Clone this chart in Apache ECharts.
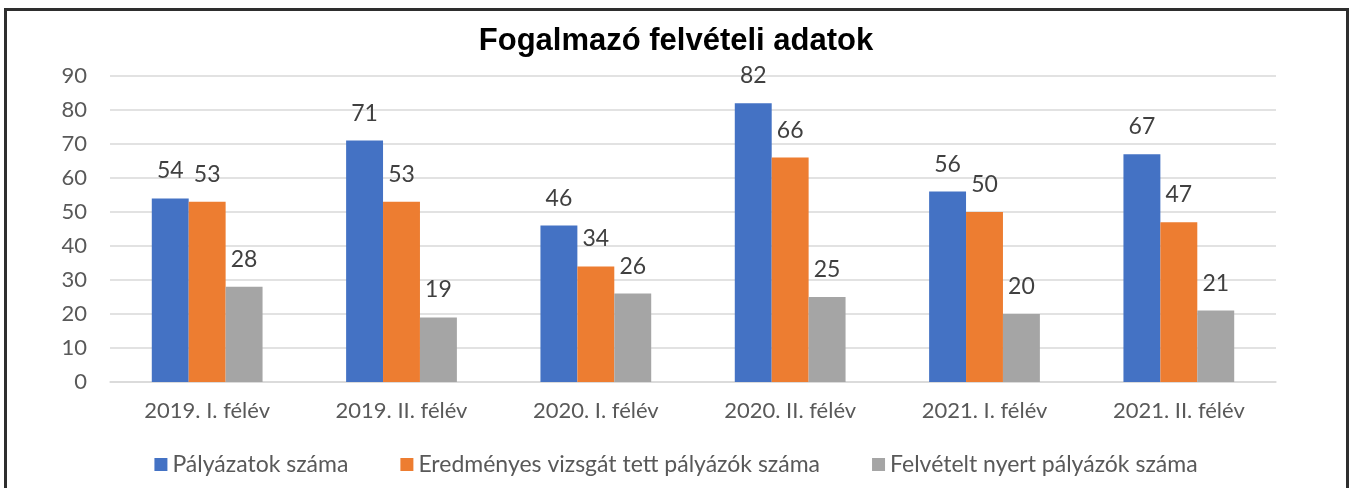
<!DOCTYPE html>
<html>
<head>
<meta charset="utf-8">
<script src="https://cdn.jsdelivr.net/npm/echarts@6/dist/echarts.min.js"></script>
<style>
  html, body { margin: 0; padding: 0; background: #fff; }
  #frame {
    position: absolute; left: 4px; top: 8px; width: 1345px; height: 500px;
    border: 3px solid #2e2e2e; box-sizing: border-box;
  }
  #main { position: absolute; left: 0; top: 0; width: 1352px; height: 488px; }
</style>
</head>
<body>
<div id="frame"></div>
<div id="main"></div>
<script>
const categories = ['2019. I. félév', '2019. II. félév', '2020. I. félév', '2020. II. félév', '2021. I. félév', '2021. II. félév']
const applicants = [54, 71, 46, 82, 56, 67]
const passed = [53, 53, 34, 66, 50, 47]
const admitted = [28, 19, 26, 25, 20, 21]
const seriesNames = ['Pályázatok száma', 'Eredményes vizsgát tett pályázók száma', 'Felvételt nyert pályázók száma']

const font = 'Lato'
const textColor = '#595959'

var myChart = echarts.init(document.getElementById('main'))

const label = {
  show: true,
  position: 'top',
  distance: 16,
  color: '#404040',
  fontFamily: font,
  fontSize: 23
}

myChart.setOption({
  animation: false,
  color: ['#4472C4', '#ED7D31', '#A5A5A5'],
  title: {
    text: 'Fogalmazó felvételi adatok',
    left: 'center',
    top: 21,
    textStyle: {
      fontFamily: 'Liberation Sans',
      fontWeight: 'bold',
      fontSize: 31,
      color: '#000'
    }
  },
  legend: {
    bottom: 7,
    left: 'center',
    itemWidth: 13,
    itemHeight: 13,
    itemGap: 52,
    icon: 'rect',
    textStyle: { fontFamily: font, fontSize: 23, color: textColor },
    data: seriesNames
  },
  grid: { left: 110, right: 76, top: 76, bottom: 106 },
  xAxis: {
    type: 'category',
    data: categories,
    axisLine: { lineStyle: { color: '#d9d9d9', width: 1.5 } },
    axisTick: { show: false },
    axisLabel: { fontFamily: font, fontSize: 22, color: textColor, margin: 18 }
  },
  yAxis: {
    type: 'value',
    min: 0,
    max: 90,
    interval: 10,
    axisLine: { show: false },
    axisTick: { show: false },
    splitLine: { lineStyle: { color: '#d9d9d9', width: 1.5 } },
    axisLabel: { fontFamily: font, fontSize: 22, color: textColor, margin: 23 }
  },
  series: [
    { name: seriesNames[0], type: 'bar', data: applicants, barGap: '0%', barCategoryGap: '43%', label: label },
    { name: seriesNames[1], type: 'bar', data: passed, barGap: '0%', barCategoryGap: '43%', label: label },
    { name: seriesNames[2], type: 'bar', data: admitted, barGap: '0%', barCategoryGap: '43%', label: label }
  ]
})
</script>
</body>
</html>
